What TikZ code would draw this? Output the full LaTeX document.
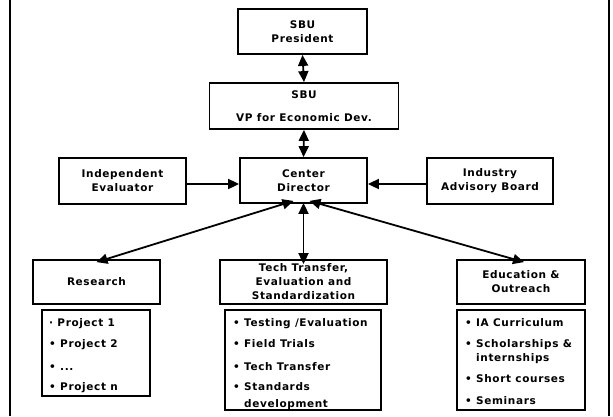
\documentclass[tikz,border=0pt]{standalone}
\usepackage{fontspec}
\setmainfont{DejaVu Sans}
\usetikzlibrary{arrows.meta}
\tikzset{
  box/.style={draw=black, line width=1.8pt, fill=white, inner sep=0pt, align=center,
    font=\fontsize{10.5}{14}\selectfont\bfseries\addfontfeature{LetterSpace=6}},
  lst/.style={draw=black, line width=1.8pt, inner sep=0pt},
  itm/.style={anchor=base west, inner sep=0pt,
    font=\fontsize{10.5}{14}\selectfont\bfseries\addfontfeature{LetterSpace=6}},
  dbl/.style={line width=1.8pt, {Triangle[length=11pt,width=10pt]}-{Triangle[length=11pt,width=10pt]}},
  sgl/.style={line width=1.8pt, -{Triangle[length=11pt,width=10pt]}},
  frame/.style={line width=1.6pt}
}
\begin{document}
\begin{tikzpicture}[x=1pt,y=-1pt]
\useasboundingbox (0,0) rectangle (613,416);
\fill[white] (0,0) rectangle (613,416);
\coordinate (fl1) at (10,0); \coordinate (fl2) at (10,416);
\coordinate (fr1) at (609,0); \coordinate (fr2) at (609,416);
\draw[frame] (fl1) -- (fl2);
\draw[frame] (fr1) -- (fr2);

\node[box, minimum width=129pt, minimum height=45pt] (pres) at (302.5,31.5) {SBU\\President};
\node[box, minimum width=189pt, minimum height=46pt] (vp) at (304,106) {SBU\\[9pt]VP for Economic Dev.};
\node[box, minimum width=127pt, minimum height=45pt] (ctr) at (303.5,180.5) {Center\\Director};
\node[box, minimum width=127pt, minimum height=46pt] (ie) at (122.5,181) {Independent\\Evaluator};
\node[box, minimum width=126pt, minimum height=46pt] (iab) at (490,181) {Industry\\Advisory Board};
\node[box, minimum width=127pt, minimum height=44pt] (res) at (96.5,282) {Research};
\node[box, minimum width=167pt, minimum height=44pt] (tech) at (303.5,282) {Tech Transfer,\\Evaluation and\\Standardization};
\node[box, minimum width=128pt, minimum height=44pt] (edu) at (521,282) {Education \&\\Outreach};

\node[lst, minimum width=108pt, minimum height=86pt] (rl) at (96,353) {};
\node[lst, minimum width=156pt, minimum height=100pt] (tl) at (303,360) {};
\node[lst, minimum width=128pt, minimum height=100pt] (el) at (521,360) {};

\node[itm] (r1) at (49,326) {· Project 1};
\node[itm] (r2) at (49,347) {• Project 2};
\node[itm] (r3) at (49,370) {• ...};
\node[itm] (r4) at (49,390) {• Project n};

\node[itm] (t1) at (233,326) {• Testing /Evaluation};
\node[itm] (t2) at (233,347) {• Field Trials};
\node[itm] (t3) at (233,370) {• Tech Transfer};
\node[itm] (t4) at (233,390) {• Standards};
\node[itm] (t5) at (233,407) {\hphantom{• }development};

\node[itm] (e1) at (465,326) {• IA Curriculum};
\node[itm] (e2) at (465,347) {• Scholarships \&};
\node[itm] (e3) at (465,361) {\hphantom{• }internships};
\node[itm] (e4) at (465,382) {• Short courses};
\node[itm] (e5) at (465,404) {• Seminars};

\draw[dbl] (pres.south) -- (vp.north);
\draw[dbl] (vp.south) -- (ctr.north);
\draw[sgl] (ie.east |- 0,184) -- (ctr.west |- 0,184);
\draw[sgl] (iab.west |- 0,184) -- (ctr.east |- 0,184);
\draw[dbl] ([yshift=1pt]ctr.south) -- ([yshift=-5pt]tech.north);
\draw[dbl] ([xshift=-10pt,yshift=3pt]ctr.south) -- ([yshift=-3pt]res.north);
\draw[dbl] ([xshift=6pt,yshift=3pt]ctr.south) -- ([xshift=3pt,yshift=-3pt]edu.north);
\end{tikzpicture}
\end{document}
